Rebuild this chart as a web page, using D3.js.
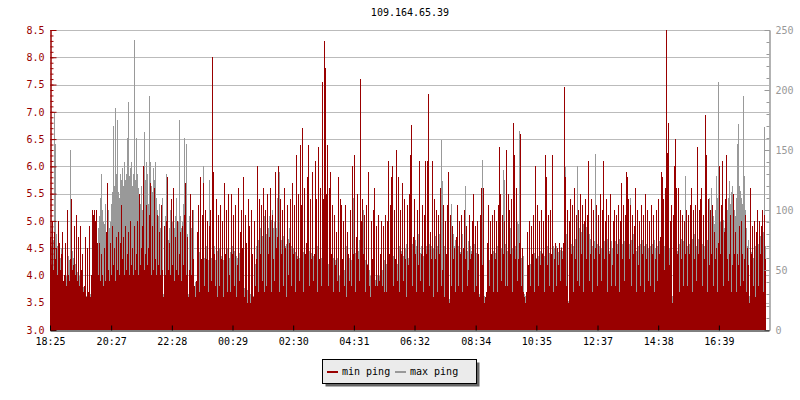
<!DOCTYPE html>
<html>
<head>
<meta charset="utf-8">
<script src="https://cdnjs.cloudflare.com/ajax/libs/d3/7.8.5/d3.min.js"></script>
<style>
  body { margin: 0; background: #fff; }
  text { font-family: "DejaVu Sans Mono", monospace; font-size: 10px; }
</style>
</head>
<body>
<svg width="800" height="400"></svg>
<script>
const title = "109.164.65.39";
const timeLabels = ["18:25","20:27","22:28","00:29","02:30","04:31","06:32","08:34","10:35","12:37","14:38","16:39"];
const seriesNames = ["min ping", "max ping"];

// min ping, left axis (ms), one sample per pixel column
const minPing = [
  4.7,4.2,5.0,4.1,4.8,4.3,4.5,4.0,5.0,4.6,4.1,4.4, 4.8,3.9,4.0,4.6,3.8,5.2,4.0,3.9,4.3,5.4,4.1,4.2,
  4.9,4.0,5.1,3.9,4.7,3.8,4.9,4.1,4.4,3.7,3.8,4.7, 3.6,4.5,3.7,4.9,3.6,4.0,5.2,5.1,5.2,5.0,5.2,4.6,
  4.0,4.6,3.9,4.4,4.0,3.8,4.5,3.9,4.8,5.7,4.1,3.9, 4.6,4.0,4.9,4.2,4.5,3.9,4.7,4.1,4.8,4.0,4.6,5.3,
  4.3,4.7,4.0,4.9,4.1,4.4,4.8,4.0,5.0,4.2,4.5,4.0, 4.9,4.1,4.4,5.0,4.0,5.5,4.2,4.5,4.9,6.0,4.1,4.4,
  5.3,4.2,4.5,5.1,5.7,4.0,4.9,4.1,5.6,4.3,4.0,5.1, 4.2,4.8,4.0,5.3,4.1,3.6,4.9,4.0,5.0,5.8,4.1,4.6,
  4.0,5.4,4.2,5.6,3.9,4.7,4.1,5.0,4.0,4.4,4.8,3.9, 4.9,4.2,5.1,5.7,4.0,4.7,3.6,4.1,5.5,4.0,5.2,4.3,

  3.8,3.6,3.9,4.8,5.3,3.7,5.8,4.3,5.1,5.7,3.8,5.2, 4.3,5.0,3.7,4.9,5.2,3.9,8.0,5.9,4.4,3.8,5.4,3.6,
  5.1,3.8,5.3,4.3,5.0,3.6,5.7,4.4,5.2,3.7,5.5,4.0, 3.7,5.5,4.4,5.1,3.8,5.3,3.6,4.2,5.6,3.9,4.8,5.2,
  4.5,5.8,3.6,5.1,4.6,3.5,5.4,4.9,3.5,5.2,4.4,3.6, 5.0,3.8,4.3,6.0,3.7,5.4,4.4,5.3,3.9,5.6,3.7,5.2,
  3.8,5.5,4.4,4.7,5.6,3.7,5.1,4.3,3.9,5.9,4.5,4.7, 6.0,3.7,5.4,4.4,5.2,3.8,5.6,4.5,3.6,5.3,4.0,4.6,
  5.4,3.8,5.7,4.4,5.3,3.7,6.2,4.3,5.5,3.9,6.4,5.3, 6.7,3.7,5.6,4.4,4.6,5.8,6.4,3.8,5.4,4.3,5.9,3.9,
  4.4,6.1,5.4,3.7,6.35,4.3,5.6,3.8,7.55,5.4,8.3,7.8, 5.5,6.4,3.8,5.6,5.9,4.4,5.3,3.7,5.1,4.2,4.8,3.9,

  5.8,3.7,5.4,5.3,4.3,5.0,3.8,5.3,3.6,4.8,4.4,3.9, 5.2,3.8,6.0,4.4,6.2,3.7,4.7,5.5,4.3,3.9,7.6,5.0,
  5.4,4.4,5.1,3.7,5.3,4.2,5.9,3.8,3.6,5.0,4.3,5.2, 5.6,3.8,4.9,3.8,5.1,3.9,4.4,5.0,3.8,4.9,3.7,5.1,
  3.7,5.0,6.1,4.4,5.3,5.8,6.0,3.8,5.2,4.3,6.3,3.9, 5.8,3.7,5.2,4.4,5.7,3.9,5.4,4.3,3.6,5.3,4.2,5.5,
  6.2,6.75,3.8,4.7,5.4,4.4,3.7,5.2,4.2,6.1,3.9,4.4, 5.3,3.7,5.1,6.1,4.4,6.1,7.33,3.8,4.8,4.3,6.1,3.6,
  5.4,4.3,5.2,3.7,5.1,4.4,5.6,3.8,4.1,5.3,3.6,5.0, 4.4,5.3,5.9,3.5,5.1,3.8,4.9,4.3,4.5,3.7,4.7,5.3,
  3.8,5.0,4.4,5.1,3.7,4.5,5.2,4.3,4.9,3.8,4.1,5.1, 4.3,4.4,5.0,5.5,3.7,4.9,3.8,5.0,4.4,3.6,5.1,5.6,

  4.2,5.6,3.5,3.6,3.7,4.6,5.3,3.8,5.0,4.4,5.1,3.7, 5.2,4.3,5.0,3.7,5.3,6.35,5.5,3.9,5.1,4.4,5.0,3.8,
  6.3,3.8,5.5,5.2,4.4,5.4,3.7,6.8,6.2,4.3,5.6,3.9, 4.3,4.6,6.6,3.8,4.5,3.7,3.6,3.5,3.7,4.8,4.2,5.0,
  3.8,4.9,4.4,5.1,3.7,6.0,4.3,5.3,3.8,5.0,4.2,5.2, 4.4,5.0,3.7,6.2,5.8,4.2,5.1,3.8,5.2,4.4,6.2,3.7,
  4.3,4.6,3.8,4.5,4.2,4.6,3.9,4.5,4.3,4.6,7.45,5.8, 3.8,5.2,3.5,5.0,5.4,4.4,5.3,3.7,5.6,4.3,5.1,3.9,
  5.2,3.8,5.5,4.4,5.3,3.7,5.0,5.4,4.3,5.1,6.1,3.9, 4.4,5.4,3.7,5.2,4.3,4.5,5.3,3.8,5.1,4.4,5.5,3.9,
  5.2,6.1,4.3,5.0,5.4,3.7,5.1,4.4,5.5,3.8,4.2,5.0, 5.2,3.8,5.1,4.4,5.3,3.7,5.0,5.7,4.3,5.3,3.9,5.1,

  5.9,5.8,5.4,4.3,5.3,3.8,5.1,4.4,4.9,5.6,3.7,5.2, 4.2,5.0,3.8,5.3,4.4,5.1,3.7,5.5,4.3,5.2,3.9,5.0,
  3.8,5.3,4.4,5.1,3.7,4.3,5.2,3.9,5.4,4.4,4.7,5.9, 5.8,5.4,4.1,5.6,8.5,6.25,6.8,4.2,5.0,5.3,3.5,5.1,
  6.0,6.5,5.6,4.4,5.6,3.7,5.2,4.3,5.1,3.8,5.0,4.4, 5.2,3.8,5.1,4.4,5.3,5.6,3.7,5.2,4.3,5.3,3.9,6.35,
  4.4,5.2,5.4,5.6,3.8,5.1,4.3,6.95,6.2,3.7,5.4,4.2, 5.2,4.4,5.3,3.8,4.8,4.3,4.5,3.7,4.6,6.0,4.4,5.3,
  6.1,3.8,4.8,5.4,6.2,4.3,3.9,4.4,5.1,3.7,4.2,5.5, 4.4,4.8,3.7,4.4,4.2,4.9,3.8,5.0,4.4,3.9,4.3,5.1,
  3.7,4.5,4.2,3.5,5.6,4.4,4.9,3.8,5.0,3.6,4.8,5.2, 3.8,5.0,4.4,4.9,5.2,3.7,5.1,4.3
];

// max ping, right axis (ms), one sample per pixel column
const maxPing = [
  60,70,65,75,182,155,80,70,65,72,60,68, 64,40,35,55,45,70,62,58,150,50,66,60,
  72,55,62,48,60,45,58,50,40,36,30,42, 28,35,32,40,30,45,40,38,44,50,55,62,
  85,95,110,130,100,90,88,105,75,95,100,85, 90,105,115,170,120,185,130,175,115,110,130,125,
  135,120,140,125,130,160,190,128,135,140,120,130, 242,125,160,130,118,110,105,120,100,115,165,125,
  140,130,105,195,140,120,115,135,125,140,110,100, 95,105,85,70,110,30,80,95,130,90,75,85,
  100,80,90,70,85,95,110,75,90,175,95,85, 90,105,160,100,155,80,30,95,110,85,90,100,

  35,40,38,55,60,65,70,58,62,137,60,65, 70,62,58,125,65,60,75,65,70,58,62,66,
  55,68,60,62,70,58,64,60,55,68,62,60, 65,58,70,60,66,55,62,60,58,64,25,32,
  30,28,35,27,30,33,28,30,30,32,40,28, 45,55,70,137,75,80,85,90,78,82,95,88,
  80,90,85,95,88,92,100,85,90,80,85,110, 95,132,80,75,85,78,82,70,72,80,76,85,
  75,70,78,68,72,65,70,62,68,60,66,58, 62,65,70,60,68,58,62,66,60,64,70,62,
  58,65,60,70,62,55,66,60,64,58,62,60, 66,60,55,64,62,58,70,60,65,58,64,60,

  50,45,60,55,40,62,50,58,70,65,55,60, 62,58,65,110,60,64,70,58,66,75,60,62,
  68,100,62,58,64,55,60,50,45,48,52,40, 55,42,50,46,60,45,55,40,50,44,58,48,
  55,50,60,52,45,55,58,62,50,56,60,55, 64,70,58,66,75,62,60,68,72,65,60,70,
  68,60,72,65,60,75,70,62,80,66,64,70, 75,62,68,60,70,65,62,72,66,70,64,68,
  72,78,66,70,64,80,60,158,124,75,70,65, 60,72,28,26,90,105,85,80,70,75,66,72,
  70,78,65,72,80,68,75,120,70,66,74,62, 70,66,75,60,72,68,64,70,60,30,66,62,

  142,70,28,26,30,55,60,58,65,62,70,66, 60,64,58,70,62,66,75,68,70,133,125,72,
  80,66,75,70,85,72,68,80,75,70,78,90, 88,166,80,60,55,62,30,28,32,58,50,62,
  55,60,52,58,64,50,60,55,62,58,66,60, 64,58,62,66,60,70,55,64,68,60,66,70,
  68,66,70,68,65,70,67,69,66,70,68,136, 80,60,24,70,75,72,78,70,82,76,80,137,
  80,85,76,82,78,88,80,74,86,78,72,80, 76,82,70,78,74,147,80,72,76,70,74,68,
  72,66,74,70,68,76,72,66,70,74,68,72, 70,74,66,72,68,76,70,64,72,68,74,70,

  60,65,70,72,110,75,68,80,72,70,66,74, 70,64,72,68,75,62,70,66,72,60,68,64,
  70,66,72,60,75,68,62,70,66,74,70,68, 72,66,70,75,90,75,70,68,60,66,28,70,
  72,80,70,66,74,72,68,76,70,74,72,128, 74,70,78,72,66,70,76,72,80,74,70,72,
  76,70,74,80,72,76,70,78,85,75,80,110, 85,118,90,95,88,100,128,110,207,100,90,95,
  88,92,85,95,90,100,110,124,105,115,120,110, 100,95,110,155,172,120,116,110,105,195,128,100,
  85,70,75,28,70,65,72,60,75,70,80,66, 72,68,78,70,74,82,169,70
];

const svg = d3.select("svg");
const mLeft = 50, mRight = 769, mTop = 30, mBottom = 330;
const red = "#990000", gray = "#999999";

const yMin = d3.scaleLinear().domain([3, 8.5]).range([mBottom, mTop]);
const yMax = d3.scaleLinear().domain([0, 250]).range([mBottom, mTop]);
const xi = d3.scaleLinear().domain([0, minPing.length]).range([mLeft, mLeft + minPing.length]);

// minutes after the first label, wrapping past midnight
const toMin = s => { const [h, m] = s.split(":").map(Number); return (h * 60 + m - (18 * 60 + 25) + 1440) % 1440; };
const xt = d3.scaleLinear().domain([0, 1434]).range([mLeft, mRight]);

// grid
svg.append("g").selectAll("line")
  .data(d3.range(3.5, 8.51, 0.5))
  .join("line")
  .attr("x1", mLeft).attr("x2", mRight)
  .attr("y1", d => Math.round(yMin(d)) + 0.5).attr("y2", d => Math.round(yMin(d)) + 0.5)
  .attr("stroke", "#bbbbbb");

// max ping behind, min ping in front
svg.append("g").attr("shape-rendering", "crispEdges").selectAll("rect")
  .data(maxPing)
  .join("rect")
  .attr("x", (d, i) => xi(i))
  .attr("width", (d, i) => xi(i + 1) - xi(i))
  .attr("y", d => yMax(d))
  .attr("height", d => mBottom - yMax(d))
  .attr("fill", gray);

svg.append("g").attr("shape-rendering", "crispEdges").selectAll("rect")
  .data(minPing)
  .join("rect")
  .attr("x", (d, i) => xi(i))
  .attr("width", (d, i) => xi(i + 1) - xi(i))
  .attr("y", d => yMin(d))
  .attr("height", d => mBottom - yMin(d))
  .attr("fill", red);

// left axis
const gl = svg.append("g").attr("transform", "translate(" + (mLeft + 0.5) + ",0)");
gl.call(d3.axisLeft(yMin).tickValues(d3.range(3, 8.51, 0.1)).tickSize(-3).tickFormat(""));
gl.append("g").call(d3.axisLeft(yMin).tickValues(d3.range(3, 8.51, 0.5)).tickSizeInner(-6).tickSizeOuter(0).tickPadding(6).tickFormat(d3.format(".1f")));
gl.selectAll("path, line").attr("stroke", red);
gl.selectAll("text").attr("fill", red).style("font-size", "10px").style("font-family", "DejaVu Sans Mono");

// right axis
const gr = svg.append("g").attr("transform", "translate(" + (mRight + 0.5) + ",0)");
gr.call(d3.axisRight(yMax).tickValues(d3.range(0, 251, 10)).tickSize(-3).tickFormat(""));
gr.append("g").call(d3.axisRight(yMax).tickValues(d3.range(0, 251, 50)).tickSizeInner(-5).tickSizeOuter(0).tickPadding(6));
gr.selectAll("path, line").attr("stroke", gray);
gr.selectAll("text").attr("fill", gray).style("font-size", "10px").style("font-family", "DejaVu Sans Mono");

// bottom axis
const gb = svg.append("g").attr("transform", "translate(0," + (mBottom + 0.5) + ")");
gb.call(d3.axisBottom(xt).tickValues(timeLabels.map(toMin)).tickFormat((d, i) => timeLabels[i]).tickSizeInner(-5).tickSizeOuter(0).tickPadding(7));
gb.selectAll("path, line").attr("stroke", "#000");
gb.selectAll("text").attr("fill", "#000").style("font-size", "10px").style("font-family", "DejaVu Sans Mono");

// title
svg.append("text").attr("x", 410).attr("y", 16).attr("text-anchor", "middle").attr("fill", "#000").text(title);

// legend
svg.append("rect").attr("x", 325.5).attr("y", 362.5).attr("width", 154).attr("height", 24).attr("fill", "#666");
svg.append("rect").attr("x", 322.5).attr("y", 359.5).attr("width", 154).attr("height", 24).attr("fill", "#ebebeb").attr("stroke", "#000");
const lg = svg.append("g").selectAll("g").data(seriesNames).join("g")
  .attr("transform", (d, i) => "translate(" + (327 + i * 68) + ",0)");
lg.append("line").attr("x1", 0).attr("x2", 11).attr("y1", 372).attr("y2", 372)
  .attr("stroke", (d, i) => i === 0 ? red : gray).attr("stroke-width", 2);
lg.append("text").attr("x", 15).attr("y", 375).attr("fill", "#000").text(d => d);
</script>
</body>
</html>
